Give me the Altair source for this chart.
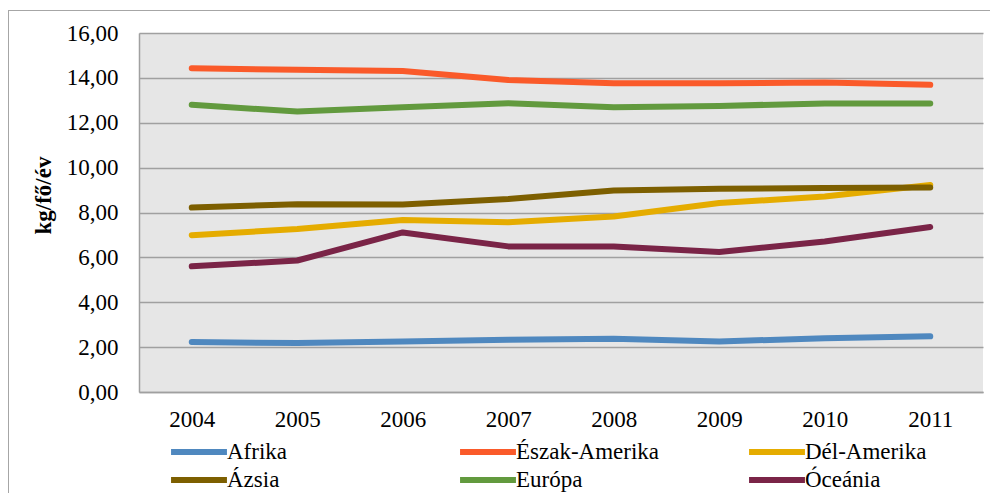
import altair as alt
import pandas as pd

years = ["2004", "2005", "2006", "2007", "2008", "2009", "2010", "2011"]
regions = ["Afrika", "Észak-Amerika", "Dél-Amerika", "Ázsia", "Európa", "Óceánia"]
colors = ["#4F88BF", "#FA5A2A", "#E5AC00", "#7D5F00", "#629A3E", "#7A2447"]

afrika = [2.23, 2.18, 2.25, 2.33, 2.37, 2.25, 2.40, 2.48]
eszak_amerika = [14.43, 14.36, 14.31, 13.91, 13.76, 13.76, 13.79, 13.69]
del_amerika = [6.99, 7.26, 7.67, 7.57, 7.82, 8.42, 8.71, 9.23]
azsia = [8.22, 8.37, 8.36, 8.60, 8.98, 9.06, 9.09, 9.11]
europa = [12.80, 12.50, 12.69, 12.87, 12.69, 12.75, 12.86, 12.86]
oceania = [5.60, 5.86, 7.11, 6.49, 6.49, 6.24, 6.71, 7.35]

series = [afrika, eszak_amerika, del_amerika, azsia, europa, oceania]
rows = []
for i, (name, vals) in enumerate(zip(regions, series)):
    for y, v in zip(years, vals):
        rows.append({"Év": y, "Régió": name, "Érték": v, "ord": i})
df = pd.DataFrame(rows)

FONT = "Liberation Serif"

lines = alt.Chart(df).mark_line(strokeWidth=6, strokeCap="round", strokeJoin="round").encode(
    x=alt.X("Év:O", title=None, sort=years,
            scale=alt.Scale(paddingOuter=0.5),
            axis=alt.Axis(labelAngle=0, ticks=False, tickSize=0, labelPadding=16,
                          labelBaseline="top", domainColor="#A0A0A0", domainWidth=1.5,
                          grid=False)),
    y=alt.Y("Érték:Q", title="kg/fő/év",
            scale=alt.Scale(domain=[0, 16], nice=False),
            axis=alt.Axis(values=[0, 2, 4, 6, 8, 10, 12, 14, 16], ticks=False, tickSize=0,
                          labelPadding=21,
                          labelExpr="replace(format(datum.value, '.2f'), '.', ',')",
                          gridColor="#A0A0A0", gridWidth=1.5,
                          domainColor="#A0A0A0", domainWidth=1.5,
                          titleFontWeight="bold", titleFontSize=23,
                          titleX=-89, titleY=162, titleBaseline="alphabetic",
                          titleAngle=270, titleAlign="center")),
    color=alt.Color("Régió:N", sort=regions,
                    scale=alt.Scale(domain=regions, range=colors),
                    legend=alt.Legend(title=None, orient="none", legendX=29, legendY=403,
                                      direction="horizontal", columns=3,
                                      symbolType="M-2.15,0H2.15", symbolSize=676,
                                      symbolOffset=15,
                                      symbolStrokeWidth=6, labelOffset=12,
                                      gridAlign="all", columnPadding=77, rowPadding=-2,
                                      labelFontSize=23, labelFont=FONT, labelColor="black",
                                      labelLimit=300, padding=0)),
    order=alt.Order("ord:Q"),
    detail="Régió:N",
)

frame_v = alt.Chart(df).mark_rule(color="#A6A6A6", strokeWidth=1).encode(
    x=alt.value(-130.5), y=alt.value(-22.5), y2=alt.value(490)
)
frame_h = alt.Chart(df).mark_rule(color="#A6A6A6", strokeWidth=1).encode(
    x=alt.value(-130.5), x2=alt.value(860), y=alt.value(-22.5)
)

chart = alt.layer(frame_v, frame_h, lines).properties(
    width=844, height=359,
    autosize=alt.AutoSizeParams(type="none"),
    padding={"left": 131, "top": 25, "right": 7, "bottom": 115},
    background="white",
).configure_view(
    fill="#E6E6E6", stroke=None
).configure_axis(
    labelFont=FONT, labelFontSize=23, labelColor="black",
    titleFont=FONT, titleColor="black",
)

chart.save("out.html", embed_options={"renderer": "svg", "actions": False})
